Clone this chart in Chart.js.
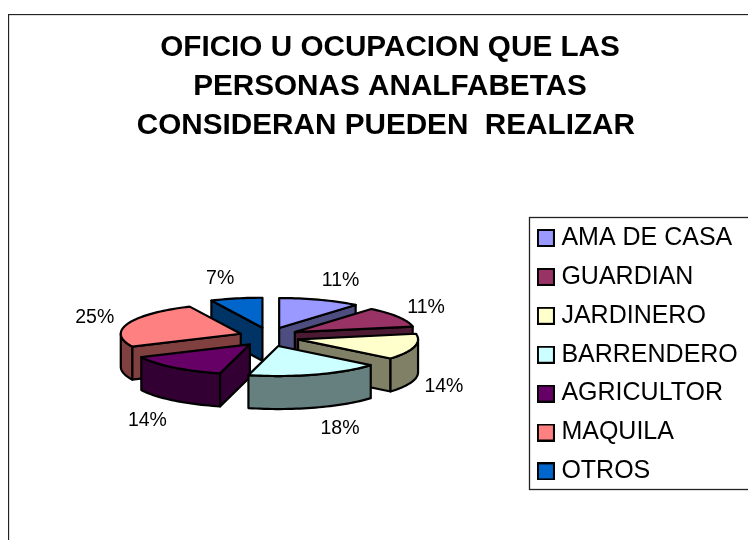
<!DOCTYPE html>
<html><head><meta charset="utf-8">
<script src="https://cdn.jsdelivr.net/npm/chart.js@4"></script>
<style>
html,body{margin:0;padding:0;background:#fff;overflow:hidden;width:748px;height:540px}
#wrap{position:absolute;left:8px;top:14px;width:764px;height:560px}
</style></head><body>
<div id="wrap"><canvas id="c" width="764" height="560"></canvas></div>
<script>
const categories=["AMA DE CASA","GUARDIAN","JARDINERO","BARRENDERO","AGRICULTOR","MAQUILA","OTROS"];
const shares=[11,11,14,18,14,25,7];
const topColors=["#9999FF","#993366","#FFFFCC","#CCFFFF","#660066","#FF8080","#0066CC"];
const wallColors=["#4D4D80","#4D1A33","#808066","#668080","#330033","#804040","#003366"];
const titleLines=["OFICIO U OCUPACION QUE LAS","PERSONAS ANALFABETAS","CONSIDERAN PUEDEN  REALIZAR "];

// view of the tilted, exploded pie
const RADIUS=120, SQ=0.25, EXPLODE_X=30, EXPLODE_Y=9.5, DEPTH=33, CX=261, CY=323;

function geo(arc){
  const p=arc.getProps(['x','y','startAngle','endAngle','outerRadius']);
  const mid=(p.startAngle+p.endAngle)/2;
  return {x0:p.x,y0:p.y,ax:CX+Math.cos(mid)*EXPLODE_X,ay:CY+Math.sin(mid)*EXPLODE_Y,
          a0:p.startAngle,a1:p.endAngle,r:p.outerRadius,mid};
}
function pt(g,a,dz){return [g.ax+Math.cos(a)*g.r, g.ay+Math.sin(a)*g.r*SQ+(dz||0)];}
function poly(ctx,pts,fill){
  ctx.beginPath();pts.forEach((q,i)=>i?ctx.lineTo(q[0],q[1]):ctx.moveTo(q[0],q[1]));ctx.closePath();
  ctx.fillStyle=fill;ctx.fill();ctx.stroke();
}
function arcPts(g,a0,a1,dz){const n=Math.max(2,Math.ceil(Math.abs(a1-a0)*30)),o=[];
  for(let i=0;i<=n;i++)o.push(pt(g,a0+(a1-a0)*i/n,dz));return o;}

class Pie3D extends Chart.PieController{
  draw(){
    const ctx=this.chart.ctx, arcs=this._cachedMeta.data;
    const order=arcs.map((a,i)=>i).sort((i,j)=>geo(arcs[i]).ay-geo(arcs[j]).ay);
    ctx.save();ctx.lineJoin='round';ctx.lineWidth=2.2;ctx.strokeStyle='#000';
    order.forEach(i=>{
      const arc=arcs[i],g=geo(arc),wall=wallColors[i],A=[g.ax,g.ay];
      // radial walls that face the viewer
      if(Math.cos(g.a0)<-1e-6){const e=pt(g,g.a0);poly(ctx,[A,e,[e[0],e[1]+DEPTH],[A[0],A[1]+DEPTH]],wall);}
      if(Math.cos(g.a1)>1e-6){const e=pt(g,g.a1);poly(ctx,[A,e,[e[0],e[1]+DEPTH],[A[0],A[1]+DEPTH]],wall);}
      // outer wall: only the front-facing part of the rim
      const from=Math.max(g.a0,0),to=Math.min(g.a1,Math.PI);
      if(to>from){poly(ctx,arcPts(g,from,to,0).concat(arcPts(g,from,to,DEPTH).reverse()),wall);}
      // top face: the library's own arc, squashed and moved to its apex
      ctx.save();
      ctx.translate(g.ax,g.ay);ctx.scale(1,SQ);ctx.translate(-g.x0,-g.y0);
      arc.draw(ctx);
      ctx.restore();
      ctx.beginPath();ctx.moveTo(A[0],A[1]);arcPts(g,g.a0,g.a1,0).forEach(q=>ctx.lineTo(q[0],q[1]));ctx.closePath();ctx.stroke();
    });
    ctx.restore();
  }
}
Pie3D.id='pie3d';
Pie3D.defaults=Chart.PieController.defaults;
Chart.register(Pie3D);

function swatch(color){
  const s=document.createElement('canvas');s.width=18;s.height=18;
  const c=s.getContext('2d');c.fillStyle=color;c.fillRect(1,1,16,16);
  c.strokeStyle='#000';c.lineWidth=2;c.strokeRect(1,1,16,16);return s;
}
const LEGEND_BOX={left:521,top:203,bottom:475};

const frameAndLabels={
  id:'frameAndLabels',
  afterLayout(chart){
    const l=chart.legend;
    l.left=LEGEND_BOX.left;l.right=chart.width+40;l.top=197.6;l.bottom=chart.height+40;
  },
  beforeDraw(chart){
    const c=chart.ctx;c.save();c.strokeStyle='#222';c.lineWidth=1.3;
    c.strokeRect(0.5,0.5,chart.width+20,chart.height+20);
    c.strokeRect(LEGEND_BOX.left+.5,LEGEND_BOX.top+.5,chart.width,LEGEND_BOX.bottom-LEGEND_BOX.top);
    c.restore();
  },
  afterDatasetsDraw(chart){
    const c=chart.ctx,arcs=chart.getDatasetMeta(0).data;c.save();
    c.font='19.5px "Liberation Sans"';c.fillStyle='#000';c.textAlign='center';c.textBaseline='middle';
    arcs.forEach((arc,i)=>{
      const g=geo(arc),e=pt(g,g.mid),s=Math.cos(g.mid),k=Math.sin(g.mid);
      const dx=s>0?14*s+16+(k>0?5*k*k*k:0):23.5*s-11;
      const dy=k<0?22*k+1.5:35+20*k+(s<0?3:0);
      c.fillText(shares[i]+'%',e[0]+dx,e[1]+dy);
    });
    c.restore();
  }
};

new Chart(document.getElementById('c'),{
  type:'pie3d',
  data:{labels:categories,datasets:[{data:shares,backgroundColor:topColors,borderWidth:0,radius:RADIUS}]},
  plugins:[frameAndLabels],
  options:{
    responsive:false,animation:false,
    plugins:{
      tooltip:{enabled:false},
      title:{display:true,text:titleLines,color:'#000',font:{family:'"Liberation Sans"',size:29.7,weight:'bold',lineHeight:1.31},padding:{top:14.5,bottom:10}},
      legend:{position:'right',align:'start',labels:{color:'#000',font:{family:'"Liberation Sans"',size:25},usePointStyle:true,pointStyleWidth:6,padding:13.9,
        generateLabels(ch){return categories.map((t,i)=>({text:t,fillStyle:topColors[i],strokeStyle:'#000',lineWidth:2,pointStyle:swatch(topColors[i]),index:i}));}}}
    }
  }
});
</script></body></html>
